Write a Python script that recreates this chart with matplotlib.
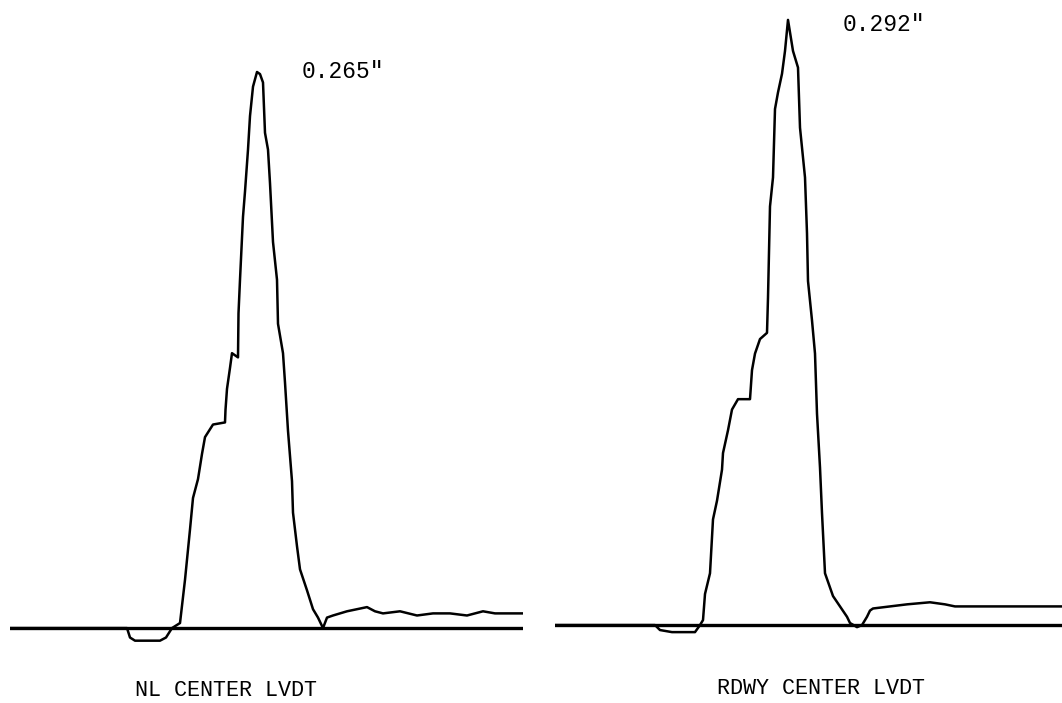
import matplotlib
matplotlib.use("Agg")
import matplotlib.pyplot as plt

# ---- data: time (arbitrary samples) and displacement (inches) ----
nl_time = [0, 117, 120, 125, 150, 156, 162, 170, 175, 180, 183, 188, 192, 195, 203,
           215, 215.5, 217, 220, 222, 228, 228.5, 230, 233, 235, 238, 240, 243, 247,
           250, 253, 255, 258, 260, 263, 267, 268, 273, 275, 278, 282, 283, 287, 290,
           297, 303, 308, 313, 317, 323, 337, 357, 365, 373, 390, 407, 423, 440, 457,
           473, 485, 513]
nl_disp = [0.000, 0.000, -0.0045, -0.006, -0.006, -0.0045, 0.000, 0.0024, 0.023, 0.047,
           0.062, 0.071, 0.083, 0.091, 0.097, 0.098, 0.104, 0.114, 0.124, 0.131, 0.129,
           0.150, 0.166, 0.196, 0.208, 0.228, 0.244, 0.258, 0.265, 0.264, 0.260, 0.236,
           0.228, 0.212, 0.184, 0.166, 0.145, 0.131, 0.117, 0.094, 0.070, 0.055, 0.039,
           0.028, 0.018, 0.009, 0.005, 0.000, 0.005, 0.006, 0.008, 0.010, 0.008, 0.007,
           0.008, 0.006, 0.007, 0.007, 0.006, 0.008, 0.007, 0.007]

rdwy_time = [0, 100, 105, 117, 140, 145, 148, 150, 155, 158, 162, 167, 168, 173, 177,
             183, 195, 197, 200, 205, 212, 213, 215, 218, 220, 223, 227, 230, 233, 238,
             243, 245, 250, 252, 253, 257, 260, 262, 265, 267, 270, 278, 285, 292, 295,
             302, 307, 312, 315, 318, 335, 352, 375, 390, 400, 445, 507]
rdwy_disp = [0.000, 0.000, -0.0024, -0.0034, -0.0034, 0.000, 0.0024, 0.015, 0.025, 0.051,
             0.060, 0.075, 0.083, 0.094, 0.104, 0.109, 0.109, 0.123, 0.131, 0.138, 0.141,
             0.158, 0.202, 0.216, 0.249, 0.257, 0.266, 0.277, 0.292, 0.277, 0.269, 0.240,
             0.216, 0.189, 0.166, 0.147, 0.131, 0.102, 0.076, 0.054, 0.025, 0.014, 0.009,
             0.004, 0.001, -0.001, 0.000, 0.004, 0.007, 0.008, 0.009, 0.010, 0.011, 0.010,
             0.009, 0.009, 0.009]

titles = ["NL CENTER LVDT", "RDWY CENTER LVDT"]
peak_labels = ['0.265"', '0.292"']

W, H = 1062, 703
fig = plt.figure(figsize=(W / 100, H / 100), dpi=100)
fig.patch.set_facecolor("white")

mono = ["Liberation Mono", "DejaVu Sans Mono"]

# left panel
axL = fig.add_axes([10 / W, 0, 513 / W, 1])
axL.plot(nl_time, nl_disp, color="black", lw=1.8)
axL.axhline(0, color="black", lw=2.4)
axL.set_xlim(0, 513)
axL.set_ylim(-0.0357, 0.2993)
axL.text(292, 0.265, peak_labels[0], ha="left", va="center",
         fontsize=16.5, family=mono)

# right panel
axR = fig.add_axes([555 / W, 0, 507 / W, 1])
axR.plot(rdwy_time, rdwy_disp, color="black", lw=1.8)
axR.axhline(0, color="black", lw=2.4)
axR.set_xlim(0, 507)
axR.set_ylim(-0.0376, 0.3016)
axR.text(288, 0.290, peak_labels[1], ha="left", va="center",
         fontsize=16.5, family=mono)

for ax in (axL, axR):
    ax.axis("off")

fig.text(226 / W, 1 - 690 / H, titles[0], ha="center", va="center",
         fontsize=15.7, family=mono)
fig.text(821 / W, 1 - 688 / H, titles[1], ha="center", va="center",
         fontsize=15.7, family=mono)

fig.savefig("out.png", dpi=100, facecolor="white")
